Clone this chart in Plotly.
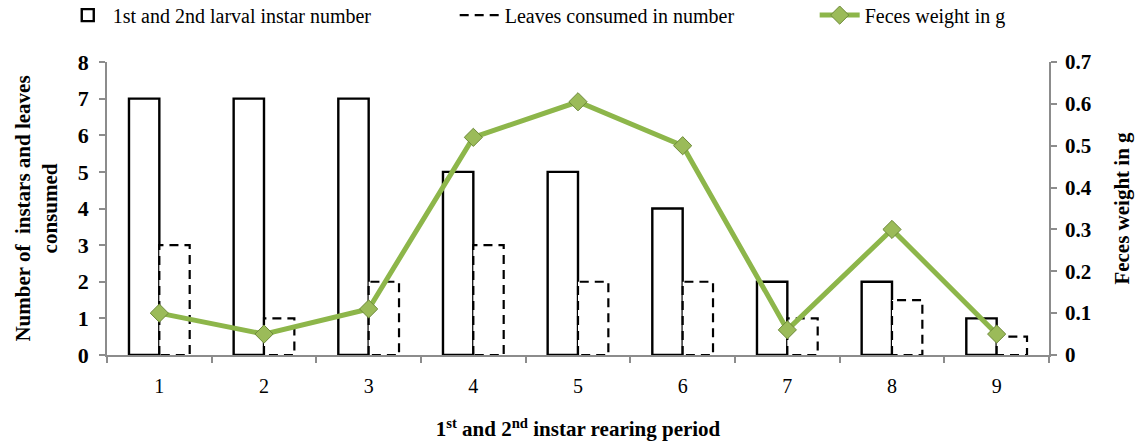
import plotly.graph_objects as go

periods = [1, 2, 3, 4, 5, 6, 7, 8, 9]
instar_number = [7, 7, 7, 5, 5, 4, 2, 2, 1]
leaves_consumed = [3, 1, 2, 3, 2, 2, 1, 1.5, 0.5]
feces_weight = [0.10, 0.05, 0.11, 0.52, 0.605, 0.50, 0.06, 0.30, 0.05]
left_ticks = [0, 1, 2, 3, 4, 5, 6, 7, 8]
right_ticks = [0, 0.1, 0.2, 0.3, 0.4, 0.5, 0.6, 0.7]

BW = 0.29
FONT = "Liberation Serif, Times New Roman, serif"

fig = go.Figure()

fig.add_trace(go.Bar(
    x=periods, y=instar_number, offset=-BW, width=BW,
    marker=dict(color="white", line=dict(color="black", width=2.4)),
    name="1st and 2nd larval instar number", legend="legend",
))

# white fill for dashed bars
fig.add_trace(go.Bar(
    x=periods, y=leaves_consumed, offset=0, width=BW,
    marker=dict(color="white", line=dict(width=0)),
    showlegend=False, hoverinfo="skip",
))

# dashed outlines built from data
dx, dy = [], []
for p, v in zip(periods, leaves_consumed):
    dx += [p, p, p + BW, p + BW, p, None]
    dy += [0, v, v, 0, 0, None]
fig.add_trace(go.Scatter(
    x=dx, y=dy, mode="lines",
    line=dict(color="black", width=2.2, dash="9px,6px"),
    name="Leaves consumed in number", hoverinfo="skip", legend="legend2",
))

fig.add_trace(go.Scatter(
    x=periods, y=feces_weight, yaxis="y2", mode="lines+markers",
    line=dict(color="#8DB64A", width=5),
    marker=dict(symbol="diamond", size=14, color="#9BBB59",
                line=dict(color="#6E8A3A", width=1)),
    name="Feces weight in g", legend="legend3",
))

def leg(xpos):
    return dict(orientation="h", xref="container", yref="container",
                x=xpos, y=0.966, xanchor="left", yanchor="middle",
                font=dict(family=FONT, size=20), itemwidth=40,
                bgcolor="rgba(0,0,0,0)")

fig.update_layout(
    width=1141, height=444,
    margin=dict(l=107, r=92, t=62, b=89, autoexpand=False),
    paper_bgcolor="white", plot_bgcolor="white",
    font=dict(family=FONT, color="black"),
    barmode="overlay",
    showlegend=True,
    legend=leg(0.055),
    legend2=leg(0.3985),
    legend3=leg(0.714),
    xaxis=dict(
        range=[0.5, 9.5], tickmode="array", tickvals=periods,
        ticktext=[str(p) for p in periods], ticks="",
        tickfont=dict(family=FONT, size=20), ticklabelstandoff=12,
        showline=True, linecolor="#8C8C8C", linewidth=1.5,
        showgrid=False, zeroline=False, automargin=False,
        minor=dict(tickmode="linear", tick0=0.5, dtick=1, ticks="outside",
                   ticklen=6, tickcolor="#8C8C8C", tickwidth=1.5, showgrid=False),
        title=dict(text="<b>1<sup>st</sup> and 2<sup>nd</sup> instar rearing period</b>",
                   font=dict(family=FONT, size=21), standoff=26),
    ),
    yaxis=dict(
        range=[0, 8], tickmode="array", tickvals=left_ticks,
        ticktext=[f"<b>{t}</b>" for t in left_ticks],
        ticks="outside", ticklen=6, tickcolor="#8C8C8C", tickwidth=1.5,
        showline=True, linecolor="#8C8C8C", linewidth=1.5,
        showgrid=False, zeroline=False, automargin=False,
        tickfont=dict(family=FONT, size=22), ticklabelstandoff=6,
        title=dict(text="<b>Number of  instars and leaves<br>consumed</b>",
                   font=dict(family=FONT, size=21), standoff=14),
    ),
    yaxis2=dict(
        overlaying="y", side="right", range=[0, 0.7],
        tickmode="array", tickvals=right_ticks,
        ticktext=[f"<b>{t:g}</b>" for t in right_ticks],
        ticks="outside", ticklen=6, tickcolor="#8C8C8C", tickwidth=1.5,
        showline=True, linecolor="#8C8C8C", linewidth=1.5,
        showgrid=False, zeroline=False, automargin=False,
        tickfont=dict(family=FONT, size=21), ticklabelstandoff=4,
        title=dict(text="<b>Feces weight in g</b>",
                   font=dict(family=FONT, size=21), standoff=24),
    ),
)

fig.write_html("out.html")
